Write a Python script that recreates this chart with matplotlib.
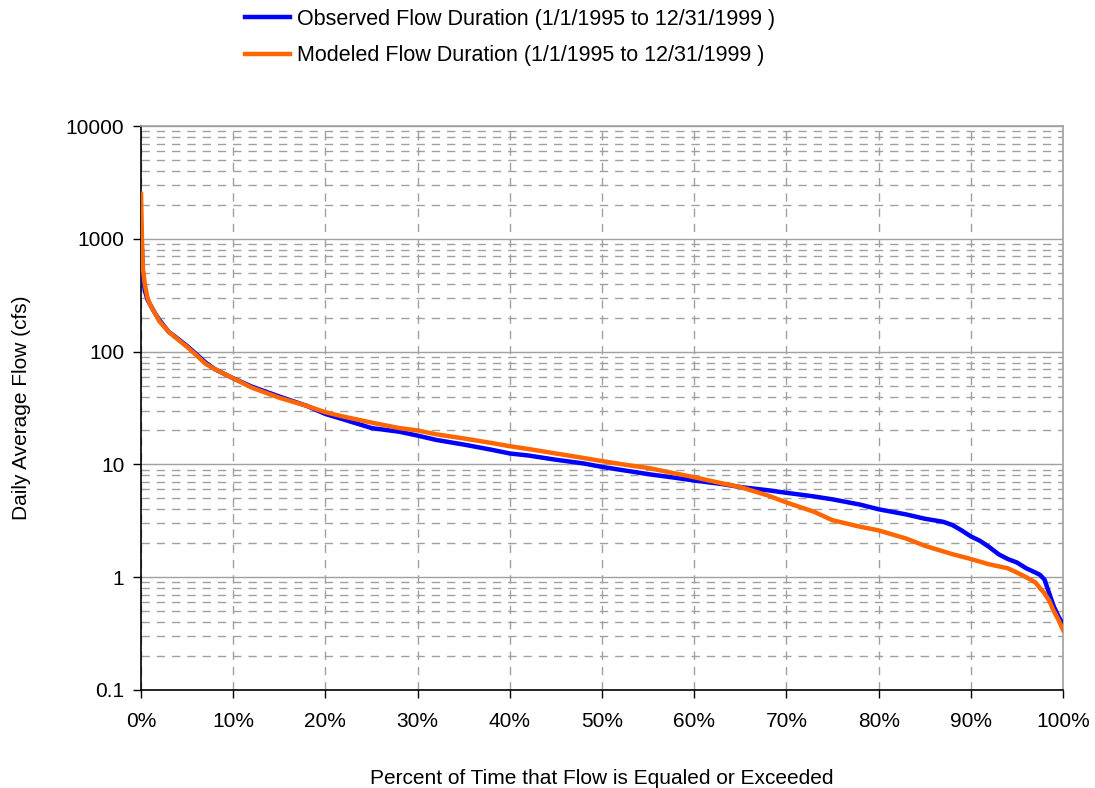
import matplotlib.pyplot as plt
from matplotlib.ticker import FixedLocator, FuncFormatter, LogLocator, NullFormatter

plt.rcParams['font.family'] = ['Liberation Sans', 'DejaVu Sans']

# percent of time exceeded (0-100) and flow (cfs)
obs_pct = [0, 0.1, 0.2, 0.4, 0.7, 1, 1.5, 2, 3, 4, 5, 6, 7, 8, 10, 12, 15, 18, 20,
           22, 25, 28, 30, 32, 35, 38, 40, 42, 45, 48, 50, 53, 55, 58, 60, 63, 65,
           68, 70, 73, 75, 78, 80, 83, 85, 87, 88, 89, 90, 91, 92, 93, 94, 95, 96,
           97, 97.5, 98, 98.5, 99, 99.5, 100]
obs_flow = [1300, 800, 500, 350, 290, 260, 220, 190, 150, 130, 112, 95, 80, 70, 58,
            49, 40, 33, 28, 25, 21, 19.5, 18, 16.5, 15, 13.5, 12.5, 12, 11, 10.2,
            9.5, 8.7, 8.2, 7.6, 7.2, 6.7, 6.3, 5.9, 5.6, 5.2, 4.9, 4.4, 4.0, 3.6,
            3.3, 3.1, 2.9, 2.6, 2.3, 2.1, 1.85, 1.6, 1.45, 1.35, 1.2, 1.1, 1.05,
            0.95, 0.72, 0.55, 0.45, 0.38]

mod_pct = [0, 0.1, 0.2, 0.4, 0.7, 1, 1.5, 2, 3, 4, 5, 6, 7, 8, 10, 12, 15, 18, 20,
           22, 25, 28, 30, 32, 35, 38, 40, 42, 45, 48, 50, 53, 55, 58, 60, 63, 65,
           68, 70, 73, 75, 78, 80, 83, 85, 88, 90, 92, 94, 95, 96, 97, 97.5, 98,
           98.5, 99, 99.5, 100]
mod_flow = [2500, 1000, 550, 400, 300, 260, 220, 185, 150, 128, 110, 93, 78, 70, 58,
            48, 39, 33, 29, 26.5, 23.5, 21, 20, 18.5, 17, 15.5, 14.5, 13.7, 12.5,
            11.4, 10.7, 9.8, 9.3, 8.3, 7.7, 6.8, 6.3, 5.3, 4.6, 3.8, 3.2, 2.8, 2.6,
            2.2, 1.9, 1.6, 1.45, 1.3, 1.2, 1.1, 1.0, 0.9, 0.8, 0.72, 0.62, 0.5,
            0.42, 0.34]

labels = ['Observed Flow Duration (1/1/1995 to 12/31/1999 )',
          'Modeled Flow Duration (1/1/1995 to 12/31/1999 )']

fig = plt.figure(figsize=(10.95, 7.88), dpi=100)
ax = fig.add_axes([0.1288, 0.1244, 0.842, 0.7156])

ax.plot(obs_pct, obs_flow, color='#0000ff', lw=3.2, label=labels[0], zorder=3)
ax.plot(mod_pct, mod_flow, color='#ff6600', lw=3.2, label=labels[1], zorder=4)

ax.set_yscale('log')
ax.set_ylim(0.1, 10000)
ax.set_xlim(0, 100)

# ticks
ax.xaxis.set_major_locator(FixedLocator(range(0, 101, 10)))
ax.xaxis.set_major_formatter(FuncFormatter(lambda v, p: '%d%%' % v))
ax.yaxis.set_major_locator(FixedLocator([0.1, 1, 10, 100, 1000, 10000]))
ax.yaxis.set_major_formatter(FuncFormatter(lambda v, p: '0.1' if v < 1 else '%d' % v))
ax.yaxis.set_minor_locator(LogLocator(base=10, subs=range(2, 10)))
ax.yaxis.set_minor_formatter(NullFormatter())
ax.tick_params(axis='both', which='major', direction='out', length=6, width=1,
               labelsize=15, colors='black')
ax.tick_params(axis='y', which='minor', length=0)
ax.tick_params(axis='y', pad=6)
ax.tick_params(axis='x', pad=10)

# grid
ax.grid(True, axis='y', which='major', color='#a0a0a0', lw=1, ls='-')
ax.grid(True, axis='y', which='minor', color='#a0a0a0', lw=1, ls=(0, (6, 5)))
ax.grid(True, axis='x', which='major', color='#a0a0a0', lw=1, ls=(0, (6, 5)))
ax.set_axisbelow(True)

ax.spines['left'].set_color('black')
ax.spines['bottom'].set_color('black')
ax.spines['top'].set_color('#a0a0a0')
ax.spines['right'].set_color('#a0a0a0')
for s in ax.spines.values():
    s.set_linewidth(1.2)

ax.set_xlabel('Percent of Time that Flow is Equaled or Exceeded', fontsize=15, labelpad=27)
ax.set_ylabel('Daily Average Flow (cfs)', fontsize=15, labelpad=25)

fig.legend(loc='upper left', bbox_to_anchor=(0.2237, 0.989), frameon=False,
           fontsize=15.5, borderpad=0, borderaxespad=0, handlelength=2.1,
           handletextpad=0.3, labelspacing=0.72)

fig.savefig('out.png', dpi=100)
